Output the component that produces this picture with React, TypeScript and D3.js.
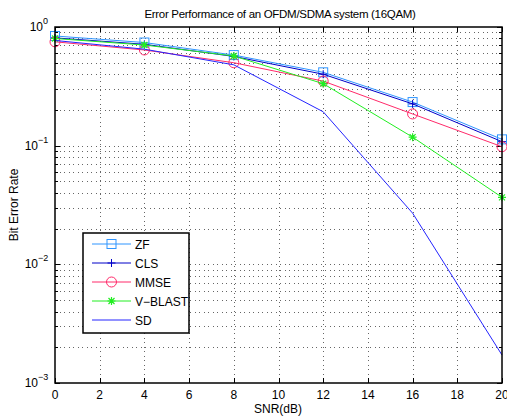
import React from 'react';
import * as d3 from 'd3';

const snr = [0, 4, 8, 12, 16, 20];
const zf = [0.84, 0.74, 0.58, 0.415, 0.233, 0.113];
const cls = [0.81, 0.715, 0.565, 0.4, 0.225, 0.108];
const mmse = [0.75, 0.64, 0.5, 0.35, 0.185, 0.098];
const vblast = [0.8, 0.705, 0.57, 0.333, 0.118, 0.0367];
const sd = [0.77, 0.65, 0.48, 0.193, 0.027, 0.00172];

const seriesNames = ['ZF', 'CLS', 'MMSE', 'V\u2212BLAST', 'SD'];
const xTicks = [0, 2, 4, 6, 8, 10, 12, 14, 16, 18, 20];
const yExps = [0, -1, -2, -3];

const W = 507;
const H = 417;
const L = 55;
const R = 502;
const T = 27;
const B = 383;
const font = '"Liberation Sans", Arial, sans-serif';

type Marker = 'square' | 'plus' | 'circle' | 'star' | 'none';
const series: { name: string; values: number[]; color: string; marker: Marker }[] = [
  { name: seriesNames[0], values: zf, color: '#2f95ff', marker: 'square' },
  { name: seriesNames[1], values: cls, color: '#0000c8', marker: 'plus' },
  { name: seriesNames[2], values: mmse, color: '#ff2a6a', marker: 'circle' },
  { name: seriesNames[3], values: vblast, color: '#22ee22', marker: 'star' },
  { name: seriesNames[4], values: sd, color: '#2424ff', marker: 'none' },
];

// snap a 1px line onto the pixel grid
const px = (v: number) => Math.round(v) + 0.5;

function MarkerShape({ type, x, y, color }: { type: Marker; x: number; y: number; color: string }) {
  if (type === 'square')
    return <rect x={x - 4.5} y={y - 4.5} width={9} height={9} fill="none" stroke={color} strokeWidth={1} />;
  if (type === 'circle') return <circle cx={x} cy={y} r={5} fill="none" stroke={color} strokeWidth={1} />;
  if (type === 'plus')
    return (
      <path d={`M${x - 4},${y}H${x + 4}M${x},${y - 4}V${y + 4}`} stroke={color} strokeWidth={1} />
    );
  if (type === 'star')
    return (
      <path
        d={`M${x - 4},${y}H${x + 4}M${x},${y - 4}V${y + 4}M${x - 3},${y - 3}L${x + 3},${y + 3}M${x - 3},${y + 3}L${x + 3},${y - 3}`}
        stroke={color}
        strokeWidth={1.2}
      />
    );
  return null;
}

export default function App() {
  const x = d3.scaleLinear().domain([0, 20]).range([L, R]);
  const y = d3.scaleLog().domain([1e-3, 1]).range([B, T]);
  const line = d3
    .line<[number, number]>()
    .x((d) => x(d[0]))
    .y((d) => y(d[1]));

  // minor log positions 2..9 in each decade
  const minor: number[] = [];
  for (let e = -3; e < 0; e++) for (let m = 2; m <= 9; m++) minor.push(m * Math.pow(10, e));
  const majors = yExps.map((e) => Math.pow(10, e));

  const grid = { stroke: '#666', strokeWidth: 1, strokeDasharray: '1,3.5', shapeRendering: 'crispEdges' };

  const legX = 83;
  const legY = 233;
  const legW = 106;
  const legH = 100;

  return (
    <svg
      width={W}
      height={H}
      style={{ position: 'absolute', left: 0, top: 0, background: '#fff' }}
      fontFamily={font}
    >
      <rect x={0} y={0} width={W} height={H} fill="#fff" />
      {/* grid */}
      {xTicks.slice(1, -1).map((t) => (
        <line key={'gx' + t} x1={px(x(t))} x2={px(x(t))} y1={T} y2={B} {...grid} />
      ))}
      {[...minor, ...majors.slice(1, -1)].map((v, i) => (
        <line key={'gy' + i} x1={L} x2={R} y1={px(y(v))} y2={px(y(v))} {...grid} />
      ))}
      {/* ticks */}
      {xTicks.map((t) => (
        <g key={'tx' + t}>
          <line x1={px(x(t))} x2={px(x(t))} y1={B} y2={B - 5} stroke="#000" />
          <line x1={px(x(t))} x2={px(x(t))} y1={T} y2={T + 5} stroke="#000" />
          <text x={x(t)} y={399} fontSize={12} textAnchor="middle">
            {t}
          </text>
        </g>
      ))}
      {minor.map((v, i) => (
        <g key={'my' + i}>
          <line x1={L} x2={L + 3} y1={px(y(v))} y2={px(y(v))} stroke="#000" />
          <line x1={R} x2={R - 3} y1={px(y(v))} y2={px(y(v))} stroke="#000" />
        </g>
      ))}
      {yExps.map((e) => {
        const yy = y(Math.pow(10, e));
        return (
          <g key={'ty' + e}>
            <line x1={L} x2={L + 5} y1={px(yy)} y2={px(yy)} stroke="#000" />
            <line x1={R} x2={R - 5} y1={px(yy)} y2={px(yy)} stroke="#000" />
            <text x={e === 0 ? 43 : 38} y={yy + 4} fontSize={12} textAnchor="end">
              10
            </text>
            <text x={e === 0 ? 43 : 38} y={yy - 3} fontSize={9} textAnchor="start">
              {e === 0 ? '0' : '\u2212' + -e}
            </text>
          </g>
        );
      })}
      {/* series */}
      {series.map((s) => {
        const pts = snr.map((v, i) => [v, s.values[i]] as [number, number]);
        return (
          <g key={s.name}>
            <path d={line(pts) ?? ''} fill="none" stroke={s.color} strokeWidth={1} />
            {pts.map((p, i) => (
              <MarkerShape key={i} type={s.marker} x={x(p[0])} y={y(p[1])} color={s.color} />
            ))}
          </g>
        );
      })}
      {/* axes box */}
      <rect x={L} y={T} width={R - L} height={B - T} fill="none" stroke="#000" strokeWidth={1.5} />
      {/* legend */}
      <rect x={legX} y={legY} width={legW} height={legH} fill="#fff" stroke="#000" strokeWidth={1.5} />
      {series.map((s, i) => {
        const ly = legY + 11 + i * 19;
        return (
          <g key={'leg' + s.name}>
            <line x1={92} x2={131} y1={ly} y2={ly} stroke={s.color} strokeWidth={1} />
            <MarkerShape type={s.marker} x={111.5} y={ly} color={s.color} />
            <text x={135} y={ly + 4.5} fontSize={12}>
              {s.name}
            </text>
          </g>
        );
      })}
      {/* labels */}
      <text x={280} y={18} fontSize={11.5} textAnchor="middle" letterSpacing={-0.3}>
        Error Performance of an OFDM/SDMA system (16QAM)
      </text>
      <text x={278} y={413} fontSize={12} textAnchor="middle">
        SNR(dB)
      </text>
      <text transform="translate(18,205) rotate(-90)" fontSize={12} textAnchor="middle">
        Bit Error Rate
      </text>
    </svg>
  );
}
